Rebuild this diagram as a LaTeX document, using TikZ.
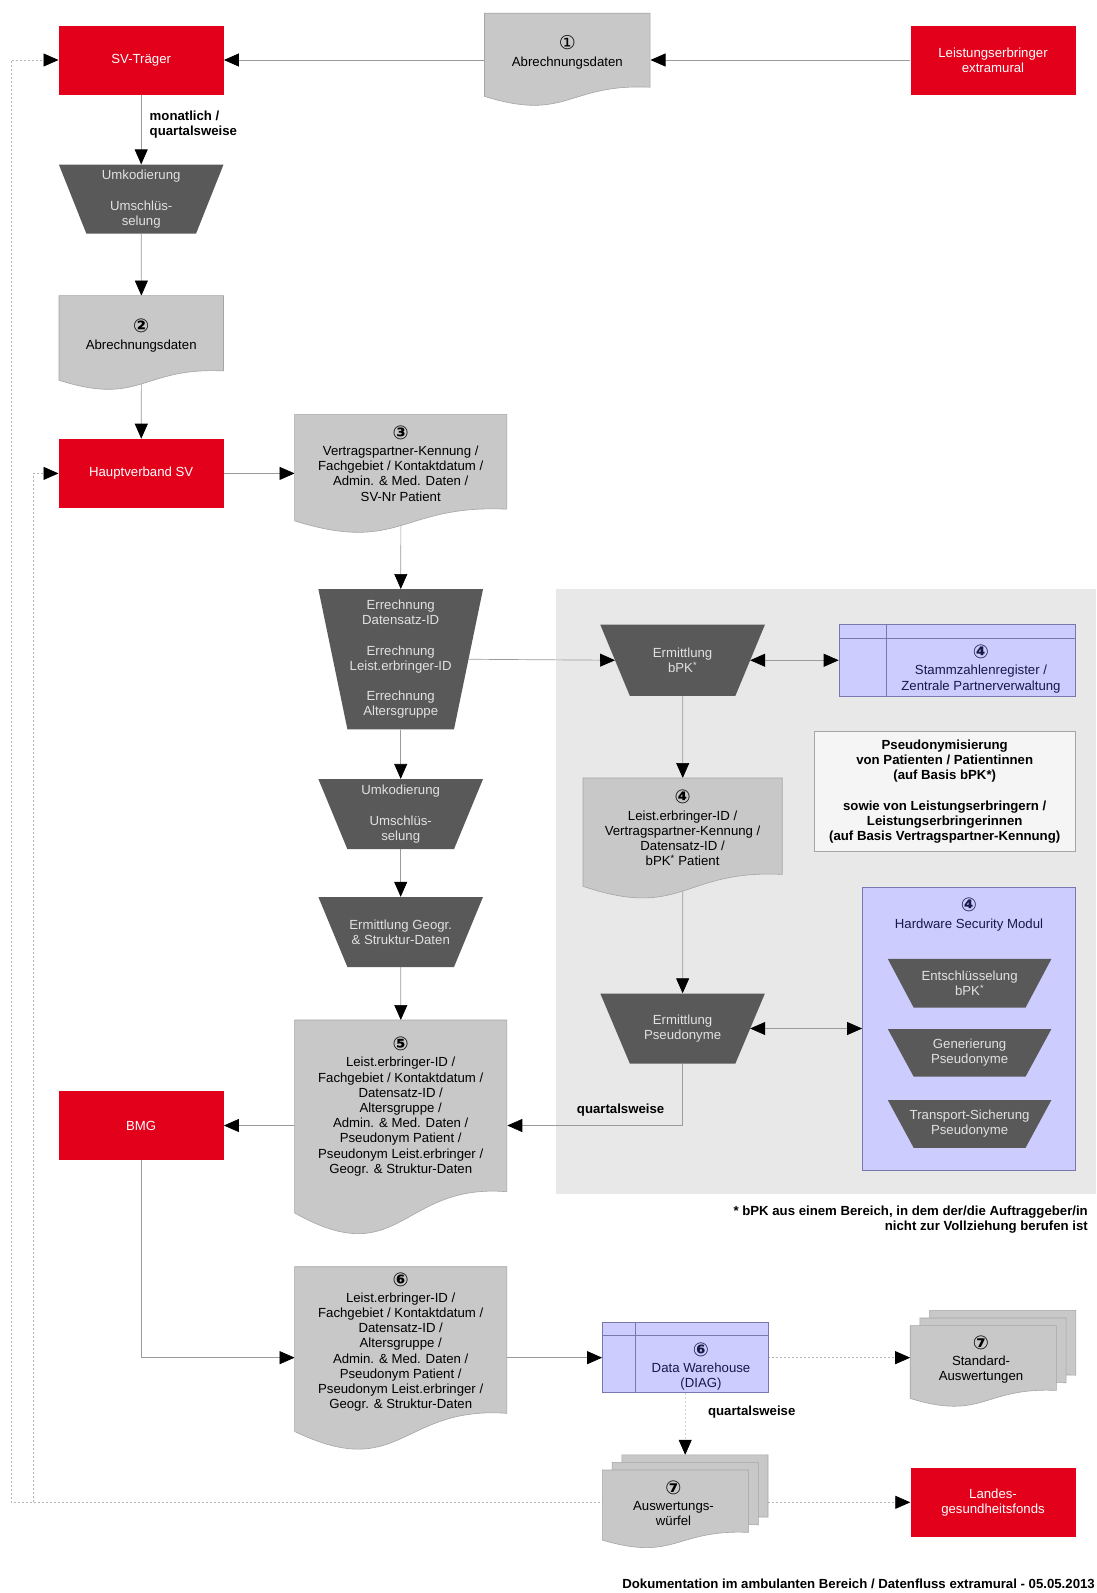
\documentclass[tikz,border=0pt]{standalone}
\usepackage{fontspec}
\setmainfont{Liberation Sans}
\newfontfamily\circfont{DejaVu Sans}
\usetikzlibrary{arrows.meta,calc}
\pgfdeclarelayer{back}
\pgfdeclarelayer{conn}
\pgfsetlayers{back,conn,main}
\definecolor{svred}{RGB}{226,0,26}
\definecolor{docgray}{RGB}{200,200,200}
\definecolor{docline}{RGB}{165,165,165}
\definecolor{trapgray}{RGB}{89,89,89}
\definecolor{traptext}{RGB}{225,225,225}
\definecolor{lav}{RGB}{204,204,255}
\definecolor{lavline}{RGB}{120,120,175}
\definecolor{navy}{RGB}{25,25,70}
\definecolor{bggray}{RGB}{232,232,232}
\definecolor{lineg}{RGB}{155,155,155}
\definecolor{notebg}{RGB}{245,245,245}
\newcommand{\cna}[1]{{\circfont\fontsize{19}{19}\selectfont #1}}
\newcommand{\cnb}[1]{{\circfont\bfseries\fontsize{19}{19}\selectfont #1}}
\newcommand{\docshape}[5]{%
  \path[docst] (#2,#3) -- (#4,#3) -- (#4,{#3+0.81*#5})
    .. controls ({(#2+#4)/2},{#3+0.768*#5}) and ({(#2+#4)/2},{#3+1.193*#5}) .. (#2,{#3+0.91*#5}) -- cycle;
  \node[inner sep=0pt, minimum width={#4-#2}, minimum height={0.81*#5}, anchor=north west] (#1) at (#2,#3) {};%
}
\newcommand{\trapshape}[6]{% name cx cy wtop wbot h
  \path[trapst] ({#2-#4/2},{#3-#6/2}) -- ({#2+#4/2},{#3-#6/2}) -- ({#2+#5/2},{#3+#6/2}) -- ({#2-#5/2},{#3+#6/2}) -- cycle;
  \node[inner sep=0pt, minimum width={#5}, minimum height={#6}] (#1) at (#2,#3) {};%
  \coordinate (#1-w) at ({#2-(#4+#5)/4},#3);%
  \coordinate (#1-e) at ({#2+(#4+#5)/4},#3);%
}
\tikzset{
  docst/.style={fill=docgray, draw=docline, line width=0.6pt},
  trapst/.style={fill=trapgray},
  redbox/.style={rectangle, fill=svred, text=white, minimum width=165pt, minimum height=69pt, inner sep=0pt, align=center},
  traptxt/.style={align=center, text=traptext, inner sep=0pt},
  doctxt/.style={align=center, text=black, inner sep=0pt},
  lavbox/.style={rectangle, fill=lav, draw=lavline, line width=0.6pt, inner sep=0pt},
  lavtxt/.style={align=center, text=navy, inner sep=0pt},
  lbl/.style={font=\fontsize{13.2}{15.2}\selectfont\bfseries, inner sep=0pt},
  conn/.style={draw=lineg, line width=0.7pt},
  arr/.style={conn, -{Triangle[length=15pt,width=13pt,color=black]}},
  darr/.style={conn, {Triangle[length=15pt,width=13pt,color=black]}-{Triangle[length=15pt,width=13pt,color=black]}},
  dline/.style={draw=lineg!75!white, dash pattern=on 2pt off 2pt},
  fline/.style={draw=lineg!45!white, dash pattern=on 2pt off 2pt}
}
\begin{document}
\begin{tikzpicture}[x=1pt,y=-1pt,font=\fontsize{13.2}{15.2}\selectfont]
\useasboundingbox (0,0) rectangle (1096,1593);
\begin{pgfonlayer}{back}
\fill[white] (0,0) rectangle (1096,1593);
\fill[bggray] (555.6,589.2) rectangle (1096,1193.6);
\end{pgfonlayer}

% red boxes
\node[redbox] (sv) at (141.2,60) {SV-Träger};
\node[redbox] (le) at (993,60) {Leistungserbringer\\extramural};
\node[redbox] (hv) at (141.2,473.4) {Hauptverband SV};
\node[redbox] (bmg) at (141.2,1125.5) {BMG};
\node[redbox] (lgf) at (993,1502.3) {Landes-\\gesundheitsfonds};

% documents
\docshape{d1}{484.5}{13.2}{650.1}{91.4}
\node[doctxt] (d1t) at (567.3,52.3) {\cna{①}\\[1pt]Abrechnungsdaten};
\docshape{d2}{59}{295.6}{223.5}{93}
\node[doctxt] (d2t) at (141.2,335.5) {\cnb{②}\\[1pt]Abrechnungsdaten};
\docshape{d3}{294.6}{414.4}{506.9}{117}
\node[doctxt] (d3t) at (400.7,463.5) {\cnb{③}\\[1pt]Vertragspartner-Kennung /\\Fachgebiet / Kontaktdatum /\\Admin. \& Med. Daten /\\SV-Nr Patient};
\docshape{d4}{583}{778}{782.2}{119}
\node[doctxt] (d4t) at (682.6,828) {\cnb{④}\\[1pt]Leist.erbringer-ID /\\Vertragspartner-Kennung /\\Datensatz-ID /\\bPK\textsuperscript{*} Patient};
\docshape{d5}{294.6}{1020}{506.9}{212}
\node[doctxt] (d5t) at (400.7,1106.5) {\cnb{⑤}\\[1pt]Leist.erbringer-ID /\\Fachgebiet / Kontaktdatum /\\Datensatz-ID /\\Altersgruppe /\\Admin. \& Med. Daten /\\Pseudonym Patient /\\Pseudonym Leist.erbringer /\\Geogr. \& Struktur-Daten};
\docshape{d6}{294.6}{1266.7}{506.9}{181}
\node[doctxt] (d6t) at (400.7,1342) {\cnb{⑥}\\[1pt]Leist.erbringer-ID /\\Fachgebiet / Kontaktdatum /\\Datensatz-ID /\\Altersgruppe /\\Admin. \& Med. Daten /\\Pseudonym Patient /\\Pseudonym Leist.erbringer /\\Geogr. \& Struktur-Daten};

% multi documents
\docshape{sback}{929.6}{1310.4}{1075.8}{80}
\docshape{smid}{919.9}{1318}{1066.1}{80}
\docshape{sfront}{910.2}{1325.6}{1056.4}{80}
\node[doctxt] (sft) at (981,1359.5) {\cnb{⑦}\\[1pt]Standard-\\Auswertungen};
\docshape{wback}{621.8}{1454.8}{768}{77}
\docshape{wmid}{612.1}{1462.4}{758.3}{77}
\docshape{wfront}{602.4}{1470}{748.6}{77}
\node[doctxt] (wft) at (673.5,1503.5) {\cnb{⑦}\\[1pt]Auswertungs-\\würfel};

% trapezoids
\trapshape{t1}{141.2}{199.1}{164.6}{109.7}{69}
\node[traptxt] (t1t) at (t1) {Umkodierung\\[15.2pt]Umschlüs-\\selung};
\trapshape{t2}{400.7}{659.25}{164.6}{106.6}{140.1}
\node[traptxt] (t2t) at (t2) {Errechnung\\Datensatz-ID\\[15.2pt]Errechnung\\Leist.erbringer-ID\\[15.2pt]Errechnung\\Altersgruppe};
\trapshape{t3}{400.7}{814.15}{164.6}{106.6}{70.1}
\node[traptxt] (t3t) at (t3) {Umkodierung\\[15.2pt]Umschlüs-\\selung};
\trapshape{t4}{400.7}{932}{164.6}{106.6}{70}
\node[traptxt] (t4t) at (t4) {Ermittlung Geogr.\\\& Struktur-Daten};
\trapshape{t5}{682.6}{660.25}{164.6}{105.6}{71.1}
\node[traptxt] (t5t) at (t5) {Ermittlung\\bPK\textsuperscript{*}};
\trapshape{t6}{682.6}{1028.5}{164.6}{105.6}{70}
\node[traptxt] (t6t) at (t6) {Ermittlung\\Pseudonyme};

% lavender boxes
\node[lavbox, minimum width=236.7pt, minimum height=71.1pt] (st) at (957.35,660.25) {};
\draw[lavline, line width=0.6pt] (839,638) -- (1075.7,638) (885.8,624.7) -- (885.8,695.8);
\node[lavtxt] (stt) at (981,669) {\cnb{④}\\[1pt]Stammzahlenregister /\\Zentrale Partnerverwaltung};

\node[lavbox, minimum width=213.3pt, minimum height=283.4pt] (hsm) at (969.05,1028.5) {};
\node[lavtxt] (hsmt) at (969,914.5) {\cnb{④}\\[1pt]Hardware Security Modul};
\trapshape{h1}{969.6}{983.3}{163.6}{111.8}{48.8}
\node[traptxt] (h1t) at (h1) {Entschlüsselung\\bPK\textsuperscript{*}};
\trapshape{h2}{969.6}{1052.85}{163.6}{111.8}{47.7}
\node[traptxt] (h2t) at (h2) {Generierung\\Pseudonyme};
\trapshape{h3}{969.6}{1123.95}{163.6}{111.8}{47.9}
\node[traptxt] (h3t) at (h3) {Transport-Sicherung\\Pseudonyme};

\node[lavbox, minimum width=165.6pt, minimum height=70.1pt] (dw) at (685.2,1357.65) {};
\draw[lavline, line width=0.6pt] (602.4,1334.8) -- (768,1334.8) (635,1322.6) -- (635,1392.7);
\node[lavtxt] (dwt) at (701,1366.5) {\cnb{⑥}\\[1pt]Data Warehouse\\(DIAG)};

% note box
\node[rectangle, fill=notebg, draw=docline, line width=0.6pt, minimum width=261pt, minimum height=119.8pt] (note) at (945.2,791.3) {};
\node[lbl, align=center] (notet) at (944.7,791.8) {Pseudonymisierung\\von Patienten / Patientinnen\\(auf Basis bPK*)\\[15.2pt]sowie von Leistungserbringern /\\Leistungserbringerinnen\\(auf Basis Vertragspartner-Kennung)};

% labels
\node[lbl, align=left, anchor=west] (lab1) at (149.5,124.4) {monatlich /\\quartalsweise};
\node[lbl] (lab2) at (620.6,1110) {quartalsweise};
\node[lbl] (lab3) at (751.7,1412) {quartalsweise};
\node[lbl, align=right, anchor=east] (foot) at (1088,1220) {* bPK aus einem Bereich, in dem der/die Auftraggeber/in\\nicht zur Vollziehung berufen ist};
\node[lbl, anchor=east] (title) at (1095,1583.6) {Dokumentation im ambulanten Bereich / Datenfluss extramural - 05.05.2013};

\coordinate (lc1) at (11,1502.3);
\coordinate (lc2) at (33.5,1502.3);

% connectors
\begin{pgfonlayer}{conn}
\draw[arr] (le) -- (d1.east |- le);
\draw[arr] (d1 |- sv) -- (sv);
\draw[arr] (sv) -- (t1);
\draw[arr] (t1) -- (d2);
\draw[arr] (d2) -- (hv);
\draw[arr] (hv) -- (d3.west |- hv);
\draw[arr] (d3) -- (t2);
\draw[arr] (t2-e) -- (t5-w);
\draw[darr] (t5-e) -- (st);
\draw[arr] (t5) -- (d4);
\draw[arr] (d4) -- (t6);
\draw[darr] (t6-e) -- (hsm);
\draw[arr] (t6) |- (d5.east |- bmg);
\draw[arr] (t2) -- (t3);
\draw[arr] (t3) -- (t4);
\draw[arr] (t4) -- (d5);
\draw[arr] (d5 |- bmg) -- (bmg);
\draw[arr] (h1) -- (h2);
\draw[arr] (h2) -- (h3);
\draw[arr] (bmg) |- (d6.west |- dw);
\draw[arr] (d6 |- dw) -- (dw);
\draw[arr, dline] (dw) -- (sfront.west |- dw);
\draw[arr, fline] (dw) -- (dw |- wback.north);
\draw[arr, dline] (wfront |- lgf) -- (lgf);
\draw[arr, dline] (wfront |- lgf) -- (lc1) |- (sv);
\draw[arr, dline] (lc2) |- (hv);
\end{pgfonlayer}
\end{tikzpicture}
\end{document}
